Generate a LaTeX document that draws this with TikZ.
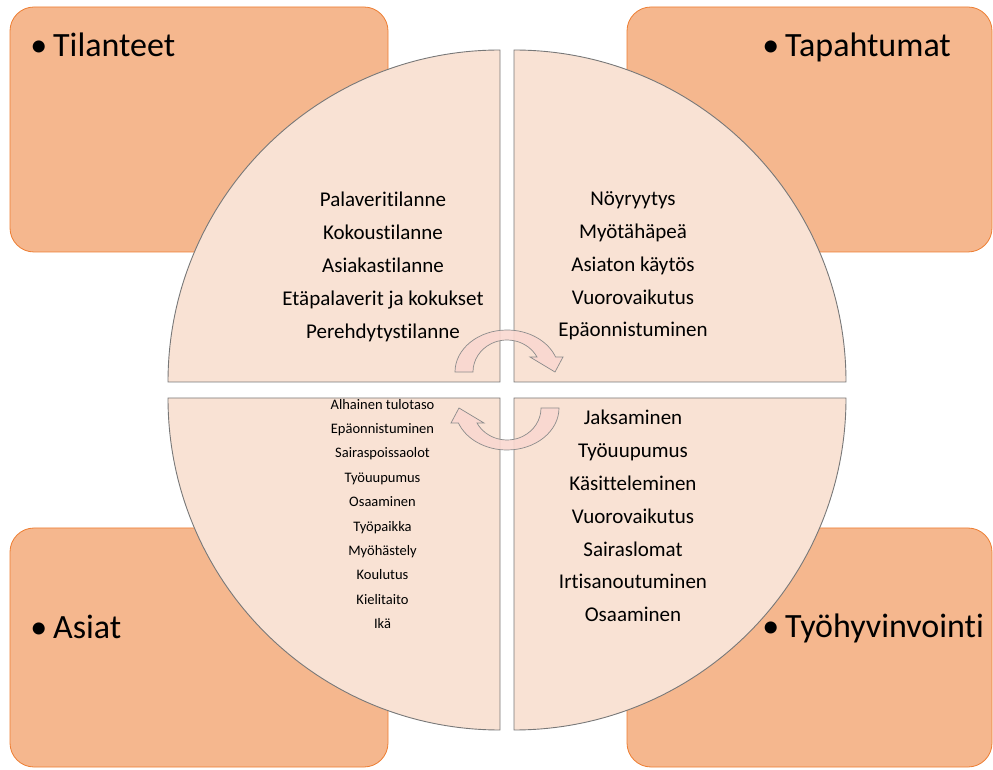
\documentclass[tikz,border=0pt]{standalone}
\usepackage{fontspec}
\setmainfont[Ligatures=NoCommon]{Carlito}
\definecolor{boxfill}{RGB}{245,183,142}
\definecolor{boxline}{RGB}{237,125,49}
\definecolor{quadfill}{RGB}{249,226,212}
\definecolor{quadline}{RGB}{120,120,120}
\definecolor{arrfill}{RGB}{249,216,208}
\tikzset{
  cornerbox/.style={draw=boxline, fill=boxfill, line width=0.8pt, rounded corners=24pt},
  quad/.style={draw=quadline, fill=quadfill, line width=0.9pt},
  biglabel/.style={anchor=base west, inner sep=0pt, font=\fontsize{34}{40}\selectfont},
  midtext/.style={align=center, inner sep=0pt, font=\fontsize{21}{32.8}\selectfont},
  smalltext/.style={align=center, inner sep=0pt, font=\fontsize{14.5}{24.4}\selectfont},
  cyclearrow/.style={draw=black!45, line width=0.7pt, fill=arrfill, fill opacity=0.9},
}
\newcommand{\cyclearrowpath}{%
  (455,397) arc[start angle=180,end angle=20.9,x radius=52pt,y radius=42pt]
  -- (563,412) -- (555,397) -- (530,412) -- (537,412)
  arc[start angle=28,end angle=180,x radius=34pt,y radius=32pt] -- cycle}
\begin{document}
\begin{tikzpicture}[x=1pt,y=1pt]
\useasboundingbox (0,0) rectangle (993,769);
% corner boxes
\path[cornerbox] (10,517) rectangle (388,762);
\path[cornerbox] (627,517) rectangle (992,762);
\path[cornerbox] (10,2) rectangle (388,241);
\path[cornerbox] (627,2) rectangle (992,241);
% quadrants
\coordinate (ctl) at (500,387);
\coordinate (ctr) at (514,387);
\coordinate (cbl) at (500,371);
\coordinate (cbr) at (514,371);
\path[quad] (ctl) -- ++(-332,0) arc[start angle=180,end angle=90,radius=332pt] -- cycle;
\path[quad] (ctr) -- ++(332,0) arc[start angle=0,end angle=90,radius=332pt] -- cycle;
\path[quad] (cbl) -- ++(-332,0) arc[start angle=180,end angle=270,radius=332pt] -- cycle;
\path[quad] (cbr) -- ++(332,0) arc[start angle=0,end angle=-90,radius=332pt] -- cycle;
% labels
\node[biglabel] (lab1) at (53,712) {\llap{•\hspace{6pt}}Tilanteet};
\node[biglabel] (lab2) at (785,712) {\llap{•\hspace{6pt}}Tapahtumat};
\node[biglabel] (lab3) at (53,131) {\llap{•\hspace{6pt}}Asiat};
\node[biglabel] (lab4) at (785,132) {\llap{•\hspace{6pt}}Työhyvinvointi};
% quadrant texts
\node[midtext] (ttl) at (383,502) {Palaveritilanne\\Kokoustilanne\\Asiakastilanne\\Etäpalaverit ja kokukset\\Perehdytystilanne};
\node[midtext] (ttr) at (633,503) {Nöyryytys\\Myötähäpeä\\Asiaton käytös\\Vuorovaikutus\\Epäonnistuminen};
\node[midtext] (tbr) at (633,253) {Jaksaminen\\Työuupumus\\Käsitteleminen\\Vuorovaikutus\\Sairaslomat\\Irtisanoutuminen\\Osaaminen};
\node[smalltext] (tbl) at (382.5,255) {Alhainen tulotaso\\Epäonnistuminen\\Sairaspoissaolot\\Työuupumus\\Osaaminen\\Työpaikka\\Myöhästely\\Koulutus\\Kielitaito\\Ikä};
% cycle arrows
\path[cyclearrow] \cyclearrowpath;
\begin{scope}[rotate around={180:(507,379)}]
\path[cyclearrow] \cyclearrowpath;
\end{scope}
\end{tikzpicture}
\end{document}
